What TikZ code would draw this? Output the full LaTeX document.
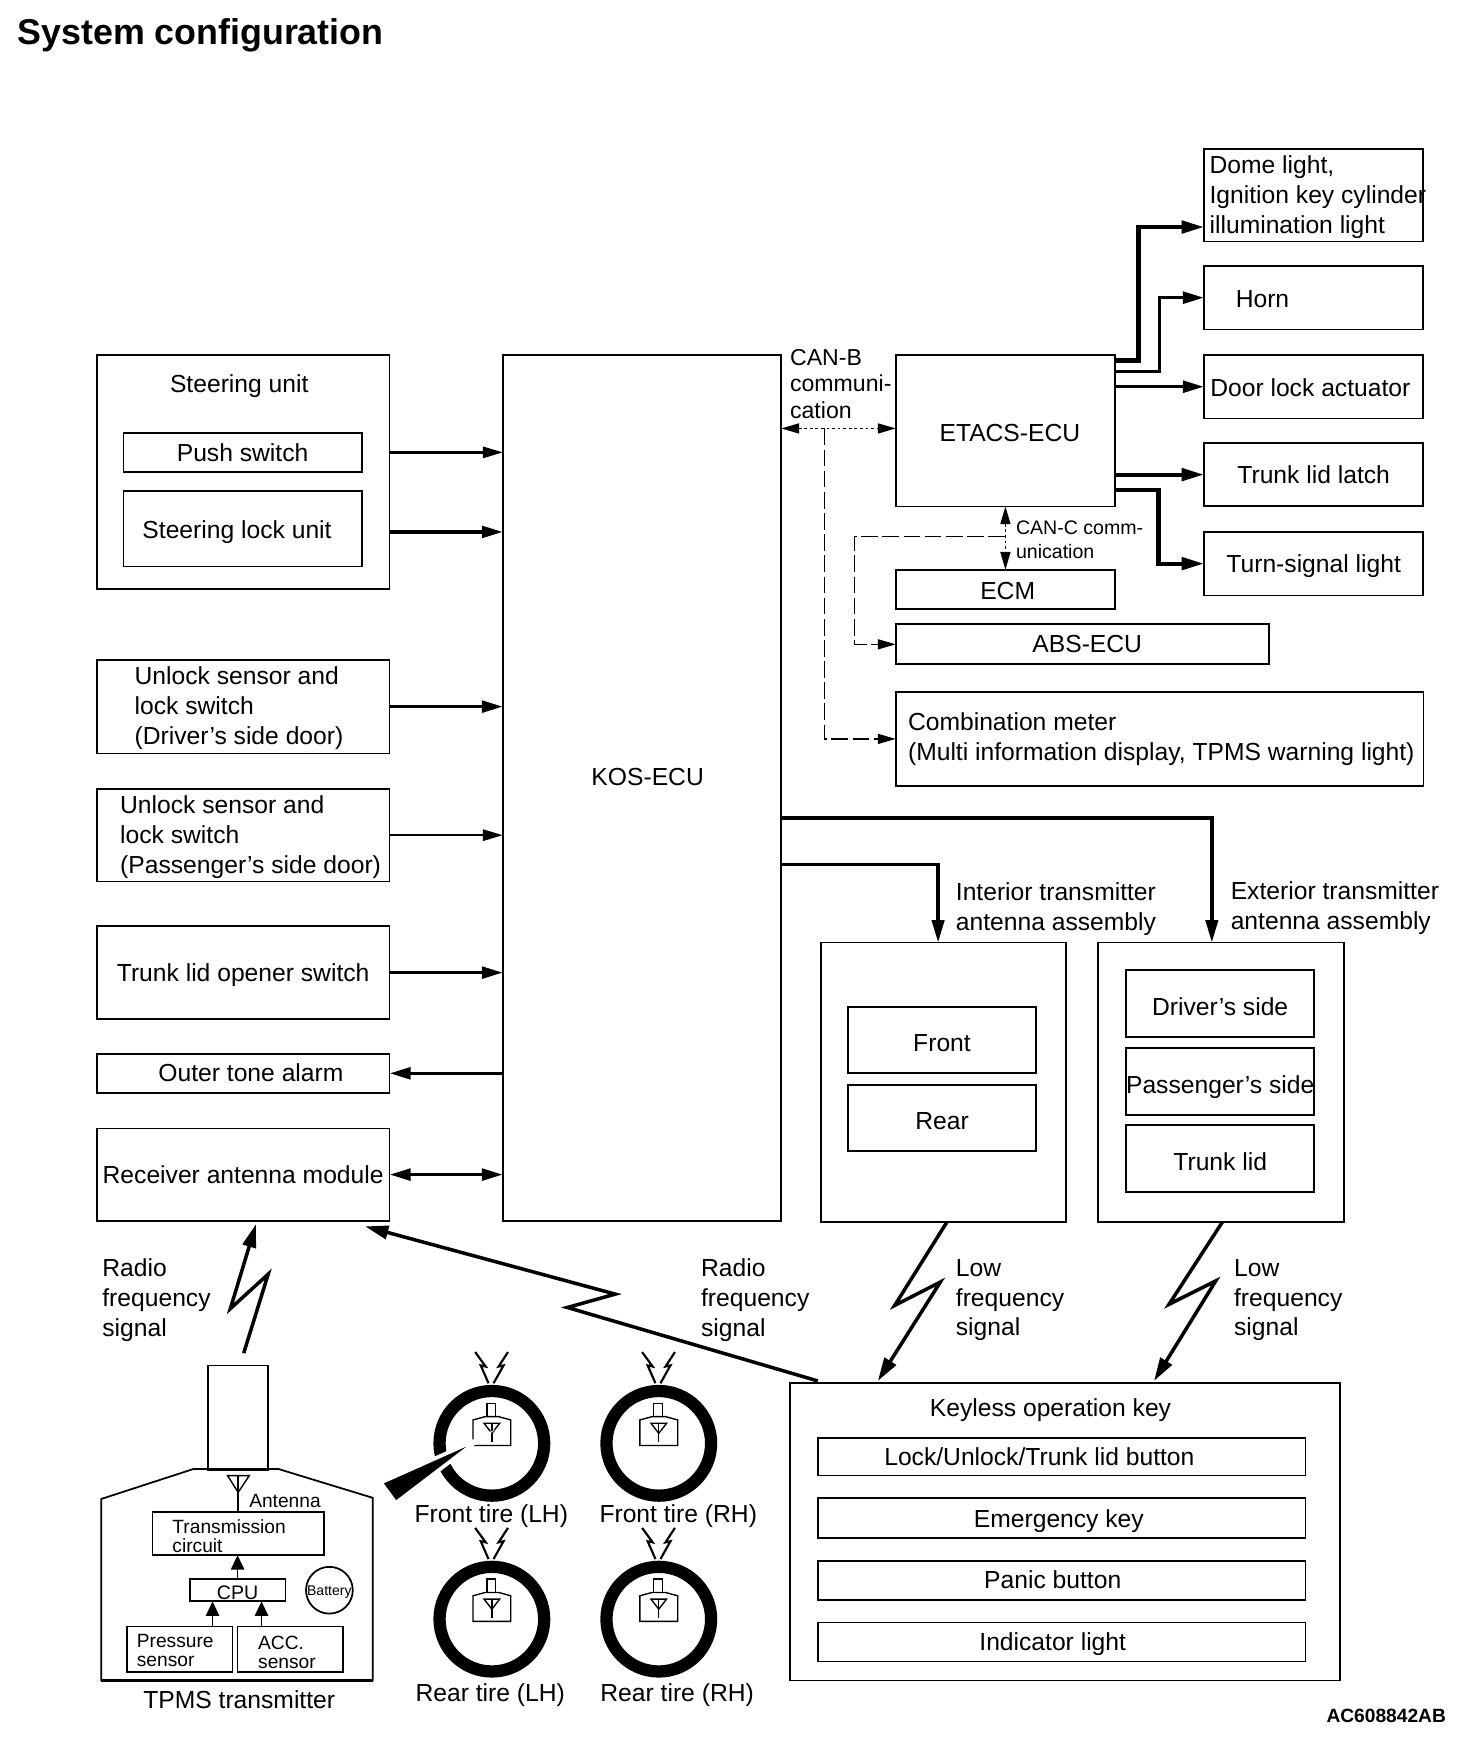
\documentclass[tikz,border=0pt]{standalone}
\usepackage{fontspec}
\setmainfont{Liberation Sans}
\usetikzlibrary{arrows.meta}

\tikzset{
    wh/.style args={#1x#2}{minimum width=#1cm, minimum height=#2cm},
    head/.style 2 args={>={Triangle[length=#1cm,width=#2cm]}},
    box/.style={draw, rectangle, inner sep=0pt, outer sep=0pt, line width=.45pt, align=left, text depth=0pt,
        font=\fontsize{6.3}{7.65}\selectfont},
    low/.style={text height=6pt},
    txt/.style={inner sep=0pt, outer sep=0pt, align=left, text depth=0pt, font=\fontsize{6.3}{7.65}\selectfont},
    small/.style={inner sep=0pt, outer sep=0pt, align=left, text depth=0pt, font=\fontsize{4.9}{4.8}\selectfont},
    link/.style={head={.18}{.10}, ->, line width=.65pt},
    mid/.style={head={.19}{.105}, ->, line width=.9pt},
    bold/.style={head={.20}{.11}, ->, line width=1.05pt},
    radio/.style={head={.21}{.12}, ->, line width=.9pt, line join=miter},
    solid tip/.style={head={.13}{.12}, ->, line width=.4pt},
    tire/.style={draw, circle, line width=.11cm, minimum size=.94cm, inner sep=0pt, outer sep=0pt},
    fine/.style={line width=.35pt},
    dotb/.style={head={.16}{.09}, line width=.35pt, dash pattern=on .025cm off .025cm},
    dashb/.style={head={.16}{.09}, line width=.3pt, dash pattern=on .15cm off .04cm},
}

\begin{document}
\begin{tikzpicture}[x=.01cm, y=-.01cm]
    \useasboundingbox (0,0) rectangle (1322.7,1569);

    % Title
    \node [anchor=west, inner sep=0pt, font=\fontsize{9.15}{11}\selectfont\bfseries] (title) at (15,32) {System configuration};
    \node [anchor=east, inner sep=0pt, font=\fontsize{4.9}{6}\selectfont\bfseries] (code) at (1300,1542) {AC608842AB};

    % Left column
    \node [box, wh=2.63x2.10] (steer) at (218.5,424) {};
    \node [txt] (steertxt) at (215,345) {Steering unit};
    \node [box, wh=2.14x0.35] (push) at (218,406.5) {Push switch};
    \node [box, wh=2.14x0.68] (lock) at (218,475) {};
    \node [txt] (locktxt) at (213,476) {Steering lock unit};
    \node [box, wh=2.63x0.84] (unlocka) at (218.5,635) {};
    \node [txt, anchor=west] (unlockatxt) at (121,634) {Unlock sensor and\\lock switch\\(Driver's side door)};
    \node [box, wh=2.63x0.83] (unlockb) at (218.5,750.5) {};
    \node [txt, anchor=west] (unlockbtxt) at (108,750) {Unlock sensor and\\lock switch\\(Passenger's side door)};
    \node [box, wh=2.63x0.84] (opener) at (218.5,874) {Trunk lid opener switch};
    \node [box, wh=2.63x0.35] (alarm) at (218.5,964.5) {};
    \node [txt] (alarmtxt) at (225.5,964) {Outer tone alarm};
    \node [box, wh=2.63x0.83] (rx) at (218.5,1055.5) {Receiver antenna module};

    % ECUs
    \node [box, wh=2.50x7.78] (kos) at (577,708) {};
    \node [txt] (kostxt) at (582,698) {KOS-ECU};
    \node [box, wh=1.97x1.36] (etacs) at (903.5,387) {};
    \node [txt] (etacstxt) at (907.5,389) {ETACS-ECU};
    \node [box, wh=1.97x0.35] (ecm) at (903.5,529.5) {};
    \node [txt] (ecmtxt) at (905.5,531) {ECM};
    \node [box, wh=3.35x0.36] (abs) at (972.5,579) {};
    \node [txt] (abstxt) at (977,579) {ABS-ECU};
    \node [box, wh=4.74x0.84] (meter) at (1042,664) {};
    \node [txt, anchor=west] (metertxt) at (816,662) {Combination meter\\(Multi information display, TPMS warning light)};

    % Right column
    \node [box, wh=1.97x0.83] (dome) at (1180.5,175.5) {};
    \node [txt, anchor=west] (dometxt) at (1087,175) {Dome light,\\Ignition key cylinder\\illumination light};
    \node [box, wh=1.97x0.57] (horn) at (1180.5,267.5) {};
    \node [txt] (horntxt) at (1134.5,269) {Horn};
    \node [box, wh=1.97x0.57] (door) at (1180.5,347.5) {};
    \node [txt] (doortxt) at (1177.5,348) {Door lock actuator};
    \node [box, wh=1.97x0.57] (latch) at (1180.5,426.5) {Trunk lid latch};
    \node [box, wh=1.97x0.57] (turn) at (1180.5,506.5) {Turn-signal light};

    % Antenna assemblies
    \node [box, wh=2.20x2.51] (inter) at (848,972.5) {};
    \node [box, low, wh=1.69x0.59] (front) at (846.5,934.5) {Front};
    \node [box, low, wh=1.69x0.59] (rear) at (846.5,1004.5) {Rear};
    \node [box, wh=2.21x2.51] (exter) at (1097.5,972.5) {};
    \node [box, low, wh=1.69x0.60] (driver) at (1096.5,902) {Driver's side};
    \node [box, low, wh=1.69x0.60] (pass) at (1096.5,972) {Passenger's side};
    \node [box, low, wh=1.69x0.60] (lid) at (1096.5,1041) {Trunk lid};
    \node [txt, anchor=west] (intertxt) at (859,815) {Interior transmitter\\antenna assembly};
    \node [txt, anchor=west] (extertxt) at (1106,814) {Exterior transmitter\\antenna assembly};

    % Keyless operation key
    \node [box, wh=4.94x2.67] (key) at (957,1376.5) {};
    \node [txt] (keytxt) at (944,1265) {Keyless operation key};
    \node [box, wh=4.38x0.34] (btna) at (954,1309) {};
    \node [txt] (btnatxt) at (934,1309) {Lock/Unlock/Trunk lid button};
    \node [box, wh=4.38x0.36] (btnb) at (954,1364) {};
    \node [txt] (btnbtxt) at (951.5,1365) {Emergency key};
    \node [box, wh=4.38x0.35] (btnc) at (954,1420.5) {};
    \node [txt] (btnctxt) at (946,1419) {Panic button};
    \node [box, wh=4.38x0.35] (btnd) at (954,1475.5) {};
    \node [txt] (btndtxt) at (946,1475) {Indicator light};

    % Signal labels
    \node [txt, anchor=west] (sigrfa) at (92,1166) {Radio\\frequency\\signal};
    \node [txt, anchor=west] (sigrfb) at (630,1166) {Radio\\frequency\\signal};
    \node [txt, anchor=west] (siglfa) at (859,1166) {Low\\frequency\\signal};
    \node [txt, anchor=west] (siglfb) at (1109,1166) {Low\\frequency\\signal};
    \node [txt, anchor=west, font=\fontsize{5.9}{6.8}\selectfont] (canbtxt) at (710,345) {CAN-B\\communi-\\cation};
    \node [small, anchor=west, font=\fontsize{5}{6}\selectfont] (canctxt) at (913,485) {CAN-C comm-\\unication};

    % TPMS transmitter
    \node [box, wh=0.54x0.94] (stem) at (214,1274) {};
    \draw [line width=.45pt] (174,1320) -- (250,1320) -- (335,1346) -- (335,1510) -- (91,1510) -- (91,1347) -- cycle;
    \draw [line width=.8pt] (91,1510) -- (335,1510);
    \node [box, wh=1.54x0.39] (tx) at (214,1378) {};
    \node [small, anchor=west] (txtxt) at (155,1380) {Transmission\\circuit};
    \node [box, text height=4.6pt, wh=0.86x0.20, font=\fontsize{5}{6}\selectfont] (cpu) at (213.5,1429) {CPU};
    \node [box, wh=0.95x0.41] (press) at (161.5,1482) {};
    \node [small, anchor=west] (presstxt) at (123,1483) {Pressure\\sensor};
    \node [box, wh=0.95x0.41] (acc) at (261,1482) {};
    \node [small, anchor=west] (acctxt) at (232,1485) {ACC.\\sensor};
    \node [draw, circle, line width=.45pt, minimum size=.42cm, inner sep=0pt, text depth=0pt, font=\fontsize{3.6}{4}\selectfont] (batt) at (296,1429) {Battery};
    \node [small, anchor=west] (anttxt) at (224,1349) {Antenna};
    \node [txt] (tpmstxt) at (215,1527) {TPMS transmitter};
    \draw [fine] (204.5,1326) -- (224,1326) -- (214,1341) -- cycle;
    \draw [fine] (214,1326) -- (tx.north);

    % Tires
    \foreach \tname/\tx/\ty/\lx/\ly/\ltxt in {
        fl/442/1297/441.5/1360/Front tire (LH), fr/592/1297/609.5/1360/Front tire (RH),
        rl/442/1455/440.5/1521/Rear tire (LH), rr/592/1455/608.5/1521/Rear tire (RH)} {
        \node [tire] (\tname) at (\tx,\ty) {};
        \node [txt] (\tname txt) at (\lx,\ly) {\ltxt};
        \begin{scope}[shift={(\tx,\ty)}]
            \draw [fine] (-4.5,-24) rectangle (3.5,-36);
            \draw [fine] (-17,-21) -- (-6,-24) -- (6,-24) -- (17,-21) -- (17,2) -- (-17,2) -- cycle;
            \draw [fine] (-7,-18) -- (7,-18) -- (0,-9) -- cycle;
            \draw [fine] (0,-18) -- (0,-1);
            \draw [line width=.55pt] (-15,-82) -- (-5.5,-69) -- (-10,-70) -- (-3,-54);
            \draw [line width=.55pt] (14.5,-82) -- (6,-69) -- (10.5,-70) -- (1.5,-54);
        \end{scope}
    }
    \draw [white, line width=.07cm] (419,1300) -- (345,1333) -- (356,1348) -- cycle;
    \fill (419,1300) -- (345,1333) -- (356,1348) -- cycle;

    % Paths
    \draw [link] (steer.east |- push) -- (kos.west |- push);
    \draw [mid] ([yshift=-.03cm]steer.east |- lock) -- ([yshift=-.03cm]kos.west |- lock);
    \draw [mid] (unlocka) -- (unlocka -| kos.west);
    \draw [link] (unlockb.east) -- (unlockb.east -| kos.west);
    \draw [mid] (opener.east) -- (opener.east -| kos.west);
    \draw [mid] (alarm.east -| kos.west) -- (alarm.east);
    \draw [mid, <->] (rx.east) -- (rx.east -| kos.west);

    \draw [bold] ([yshift=-.05cm]etacs.north east) -- ++(21,0) |- ([yshift=.13cm]dome.south west);
    \draw [mid] ([yshift=-.15cm]etacs.north east) -- ++(40,0) |- (horn);
    \draw [mid] (etacs.east |- door) -- (door);
    \draw [bold] (etacs.east |- latch) -- (latch);
    \draw [bold] ([yshift=.15cm]etacs.south east) -- ++(39,0) |- (turn);

    \coordinate (canb) at (741,385);
    \coordinate (canc) at (903,482);
    \draw [dotb, <->] (canb -| kos.east) -- (canb -| etacs.west);
    \draw [dashb, ->] (canb) |- (meter);
    \draw [dotb, <->] (etacs) -- (ecm);
    \draw [dashb, ->] (canc) -- ++(-135,0) |- (abs);

    \draw [bold, line width=.85pt] ([yshift=-.27cm]kos.east) -| ([xshift=-.085cm]exter.north);
    \draw [bold, line width=.85pt] ([yshift=-.69cm]kos.east) -| ([xshift=-.05cm]inter.north);

    \draw [radio] ([xshift=.05cm,yshift=.11cm]stem.north) -- ++(22,-71) -- ++(-34,31) -- ([xshift=.115cm,yshift=-.03cm]rx.south);
    \draw [radio] ([xshift=.25cm,yshift=.02cm]key.north west) -- ++(-225,-66) -- ++(43,-12) -- ([xshift=-.22cm,yshift=-.05cm]rx.south east);
    \draw [radio] ([xshift=.03cm]inter.south) -- ++(-47,75) -- ++(41,-21) -- ([xshift=.79cm,yshift=.02cm]key.north west);
    \draw [radio] ([xshift=.01cm]exter.south) -- ++(-48,74) -- ++(42,-21) -- ([xshift=3.27cm,yshift=.02cm]key.north west);

    \draw [solid tip] (cpu.north) -- (cpu.north |- tx.south);
    \draw [solid tip] (press.north -| 191,0) -- (cpu.south -| 191,0);
    \draw [solid tip] (acc.north -| 235,0) -- (cpu.south -| 235,0);
\end{tikzpicture}
\end{document}
